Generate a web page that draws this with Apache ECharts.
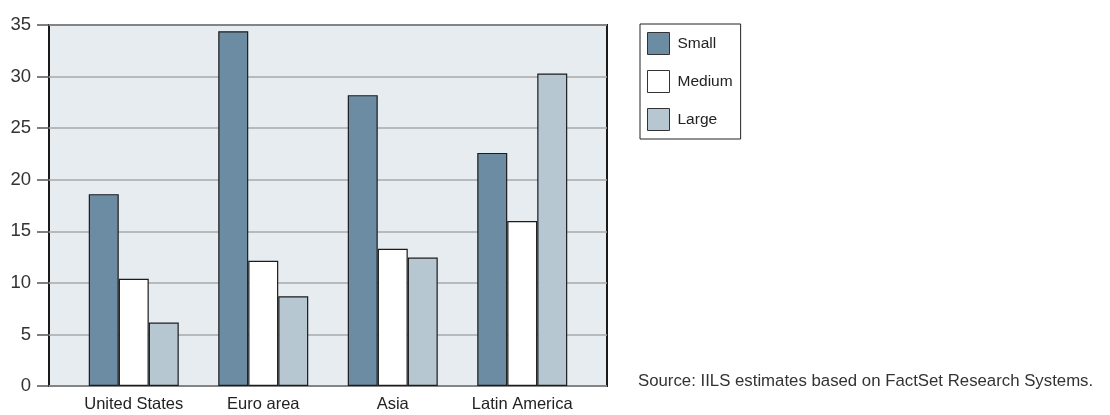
<!DOCTYPE html>
<html>
<head>
<meta charset="utf-8">
<script src="https://cdn.jsdelivr.net/npm/echarts@6/dist/echarts.min.js"></script>
<style>
  html, body { margin: 0; padding: 0; background: #fff; }
  #chart { width: 1110px; height: 415px; }
</style>
</head>
<body>
<div id="chart"></div>
<script>
const regions = ['United States', 'Euro area', 'Asia', 'Latin America'];
const smallFirms = [18.6, 34.4, 28.2, 22.6];
const mediumFirms = [10.4, 12.15, 13.3, 16.0];
const largeFirms = [6.15, 8.7, 12.45, 30.3];
const yTicks = { min: 0, max: 35, step: 5 };
const sourceNote = 'Source: IILS estimates based on FactSet Research Systems.';

const chart = echarts.init(document.getElementById('chart'));
const font = 'Liberation Sans, Arial, sans-serif';

const barStyle = (color) => ({
  color: color,
  borderColor: '#1c1c1c',
  borderWidth: 1.2
});

const options = {
  animation: false,
  textStyle: { fontFamily: font },
  title: {
    text: sourceNote,
    left: 633,
    top: 368,
    textStyle: { fontSize: 16.8, fontWeight: 'normal', color: '#333', fontFamily: font }
  },
  legend: {
    orient: 'vertical',
    left: 640,
    top: 24,
    padding: [8, 8, 8, 7],
    itemWidth: 22,
    itemHeight: 22,
    itemGap: 15,
    borderColor: '#222',
    borderWidth: 1,
    icon: 'rect',
    itemStyle: { borderWidth: 1, borderColor: '#333' },
    textStyle: { fontSize: 15.5, color: '#222', fontFamily: font, padding: [0, 0, 0, 3] },
    data: ['Small', 'Medium', 'Large']
  },
  grid: [
    // background box with gridlines
    { left: 49, right: 503, top: 25, bottom: 29, show: true,
      backgroundColor: '#e7ecf0', borderColor: '#1a1a1a', borderWidth: 2 },
    // bars sit inside a slightly narrower band
    { left: 69, right: 523, top: 25, bottom: 29 }
  ],
  xAxis: [
    { type: 'value', gridIndex: 0, show: false, min: 0, max: 1 },
    {
      type: 'category',
      gridIndex: 1,
      data: regions,
      axisLine: { show: false },
      axisTick: { show: false },
      axisLabel: { interval: 0, fontSize: 16.5, color: '#222', margin: 10, fontFamily: font }
    }
  ],
  yAxis: [
    {
      type: 'value',
      gridIndex: 0,
      min: yTicks.min,
      max: yTicks.max,
      interval: yTicks.step,
      axisLine: { show: false },
      axisTick: { show: true, length: 12, lineStyle: { color: '#555', width: 1.5 } },
      axisLabel: { fontSize: 18.5, color: '#333', margin: 18, fontFamily: font },
      splitLine: { lineStyle: { color: '#a8a8a8', width: 1.5 } }
    },
    { type: 'value', gridIndex: 1, show: false, min: yTicks.min, max: yTicks.max }
  ],
  series: [
    { name: 'Small', type: 'bar', xAxisIndex: 1, yAxisIndex: 1, data: smallFirms,
      barWidth: 30, barGap: '0%', itemStyle: barStyle('#6b8ca3') },
    { name: 'Medium', type: 'bar', xAxisIndex: 1, yAxisIndex: 1, data: mediumFirms,
      barWidth: 30, barGap: '0%', itemStyle: barStyle('#ffffff') },
    { name: 'Large', type: 'bar', xAxisIndex: 1, yAxisIndex: 1, data: largeFirms,
      barWidth: 30, barGap: '0%', itemStyle: barStyle('#b7c7d1') }
  ]
};

chart.setOption(options);
</script>
</body>
</html>
